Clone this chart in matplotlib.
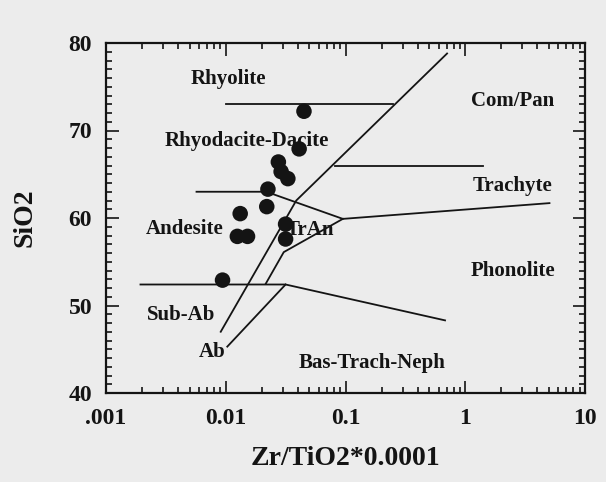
import matplotlib
matplotlib.use("Agg")
import matplotlib.pyplot as plt
from matplotlib.ticker import FixedLocator, FixedFormatter, LogLocator, MultipleLocator, NullFormatter

# Echantillons (Zr/TiO2*0.0001, SiO2)
zr_ti = [0.045, 0.041, 0.0275, 0.029, 0.033, 0.0225, 0.022, 0.0132,
         0.0316, 0.0125, 0.0152, 0.0316, 0.0094]
sio2 = [72.2, 67.9, 66.4, 65.3, 64.5, 63.3, 61.3, 60.5,
        59.3, 57.9, 57.9, 57.6, 52.9]

# Limites des champs (Winchester & Floyd)
lim_rhy_x = [0.0101, 0.25]
lim_rhy_y = [73.0, 73.0]
lim_diag_x = [0.00908, 0.0388, 0.705]
lim_diag_y = [47.0, 62.0, 78.8]
lim_tra_x = [0.081, 1.42]
lim_tra_y = [66.0, 66.0]
lim_and_x = [0.0057, 0.0218, 0.095, 5.05]
lim_and_y = [63.0, 63.0, 59.9, 61.7]
lim_tran_x = [0.095, 0.0305, 0.0216]
lim_tran_y = [59.9, 56.1, 52.5]
lim_bas_x = [0.00194, 0.0316, 0.678]
lim_bas_y = [52.4, 52.4, 48.3]
lim_ab_x = [0.0316, 0.0103]
lim_ab_y = [52.4, 45.3]

# Noms des champs
noms = ["Rhyolite", "Rhyodacite-Dacite", "Andesite", "TrAn", "Com/Pan",
        "Trachyte", "Phonolite", "Sub-Ab", "Ab", "Bas-Trach-Neph"]
noms_x = [0.0105, 0.015, 0.00455, 0.05, 2.5, 2.5, 2.48, 0.00428, 0.00764, 0.168]
noms_y = [75.9, 68.8, 58.7, 58.6, 73.4, 63.7, 54.0, 48.9, 44.7, 43.4]

xticks = [0.001, 0.01, 0.1, 1, 10]
xtick_labels = [".001", "0.01", "0.1", "1", "10"]
yticks = [40, 50, 60, 70, 80]

fond = "#ececec"
encre = "#141414"
police = "Liberation Serif"

fig = plt.figure(figsize=(6.06, 4.82), dpi=100, facecolor=fond)
ax = fig.add_axes([106 / 606, 1 - 393 / 482, 479 / 606, 350 / 482])
ax.set_facecolor(fond)
ax.set_xscale("log")
ax.set_xlim(0.001, 10)
ax.set_ylim(40, 80)

# Tracer les limites
for xs, ys in [(lim_rhy_x, lim_rhy_y), (lim_diag_x, lim_diag_y), (lim_tra_x, lim_tra_y),
               (lim_and_x, lim_and_y), (lim_tran_x, lim_tran_y), (lim_bas_x, lim_bas_y),
               (lim_ab_x, lim_ab_y)]:
    ax.plot(xs, ys, color=encre, lw=1.3, zorder=2)

for nom, x, y in zip(noms, noms_x, noms_y):
    ax.text(x, y, nom, ha="center", va="center", fontsize=15, fontweight="bold",
            family=police, color=encre, zorder=1)

ax.scatter(zr_ti, sio2, s=125, color=encre, edgecolors="none", zorder=3)

# Axes et graduations
ax.xaxis.set_major_locator(FixedLocator(xticks))
ax.xaxis.set_major_formatter(FixedFormatter(xtick_labels))
ax.xaxis.set_minor_locator(LogLocator(base=10, subs=range(2, 10), numticks=20))
ax.xaxis.set_minor_formatter(NullFormatter())
ax.yaxis.set_major_locator(FixedLocator(yticks))
ax.yaxis.set_minor_locator(MultipleLocator(1))
ax.tick_params(which="both", direction="in", top=True, right=True, color=encre, width=1.2)
ax.tick_params(which="major", length=9)
ax.tick_params(which="minor", length=4.5)
ax.tick_params(axis="x", which="major", pad=11)
ax.tick_params(axis="y", which="major", pad=10)
for lab in ax.get_xticklabels() + ax.get_yticklabels():
    lab.set_family(police)
    lab.set_fontweight("bold")
    lab.set_fontsize(17)
    lab.set_color(encre)
for sp in ax.spines.values():
    sp.set_linewidth(1.6)
    sp.set_color(encre)

ax.set_xlabel("Zr/TiO2*0.0001", family=police, fontweight="bold", fontsize=20,
              color=encre, va="center")
ax.xaxis.set_label_coords(0.5, -0.188)
ax.set_ylabel("SiO2", family=police, fontweight="bold", fontsize=20,
              color=encre, va="center")
ax.yaxis.set_label_coords(-0.169, 0.5)

fig.savefig("out.png", dpi=100, facecolor=fond)
